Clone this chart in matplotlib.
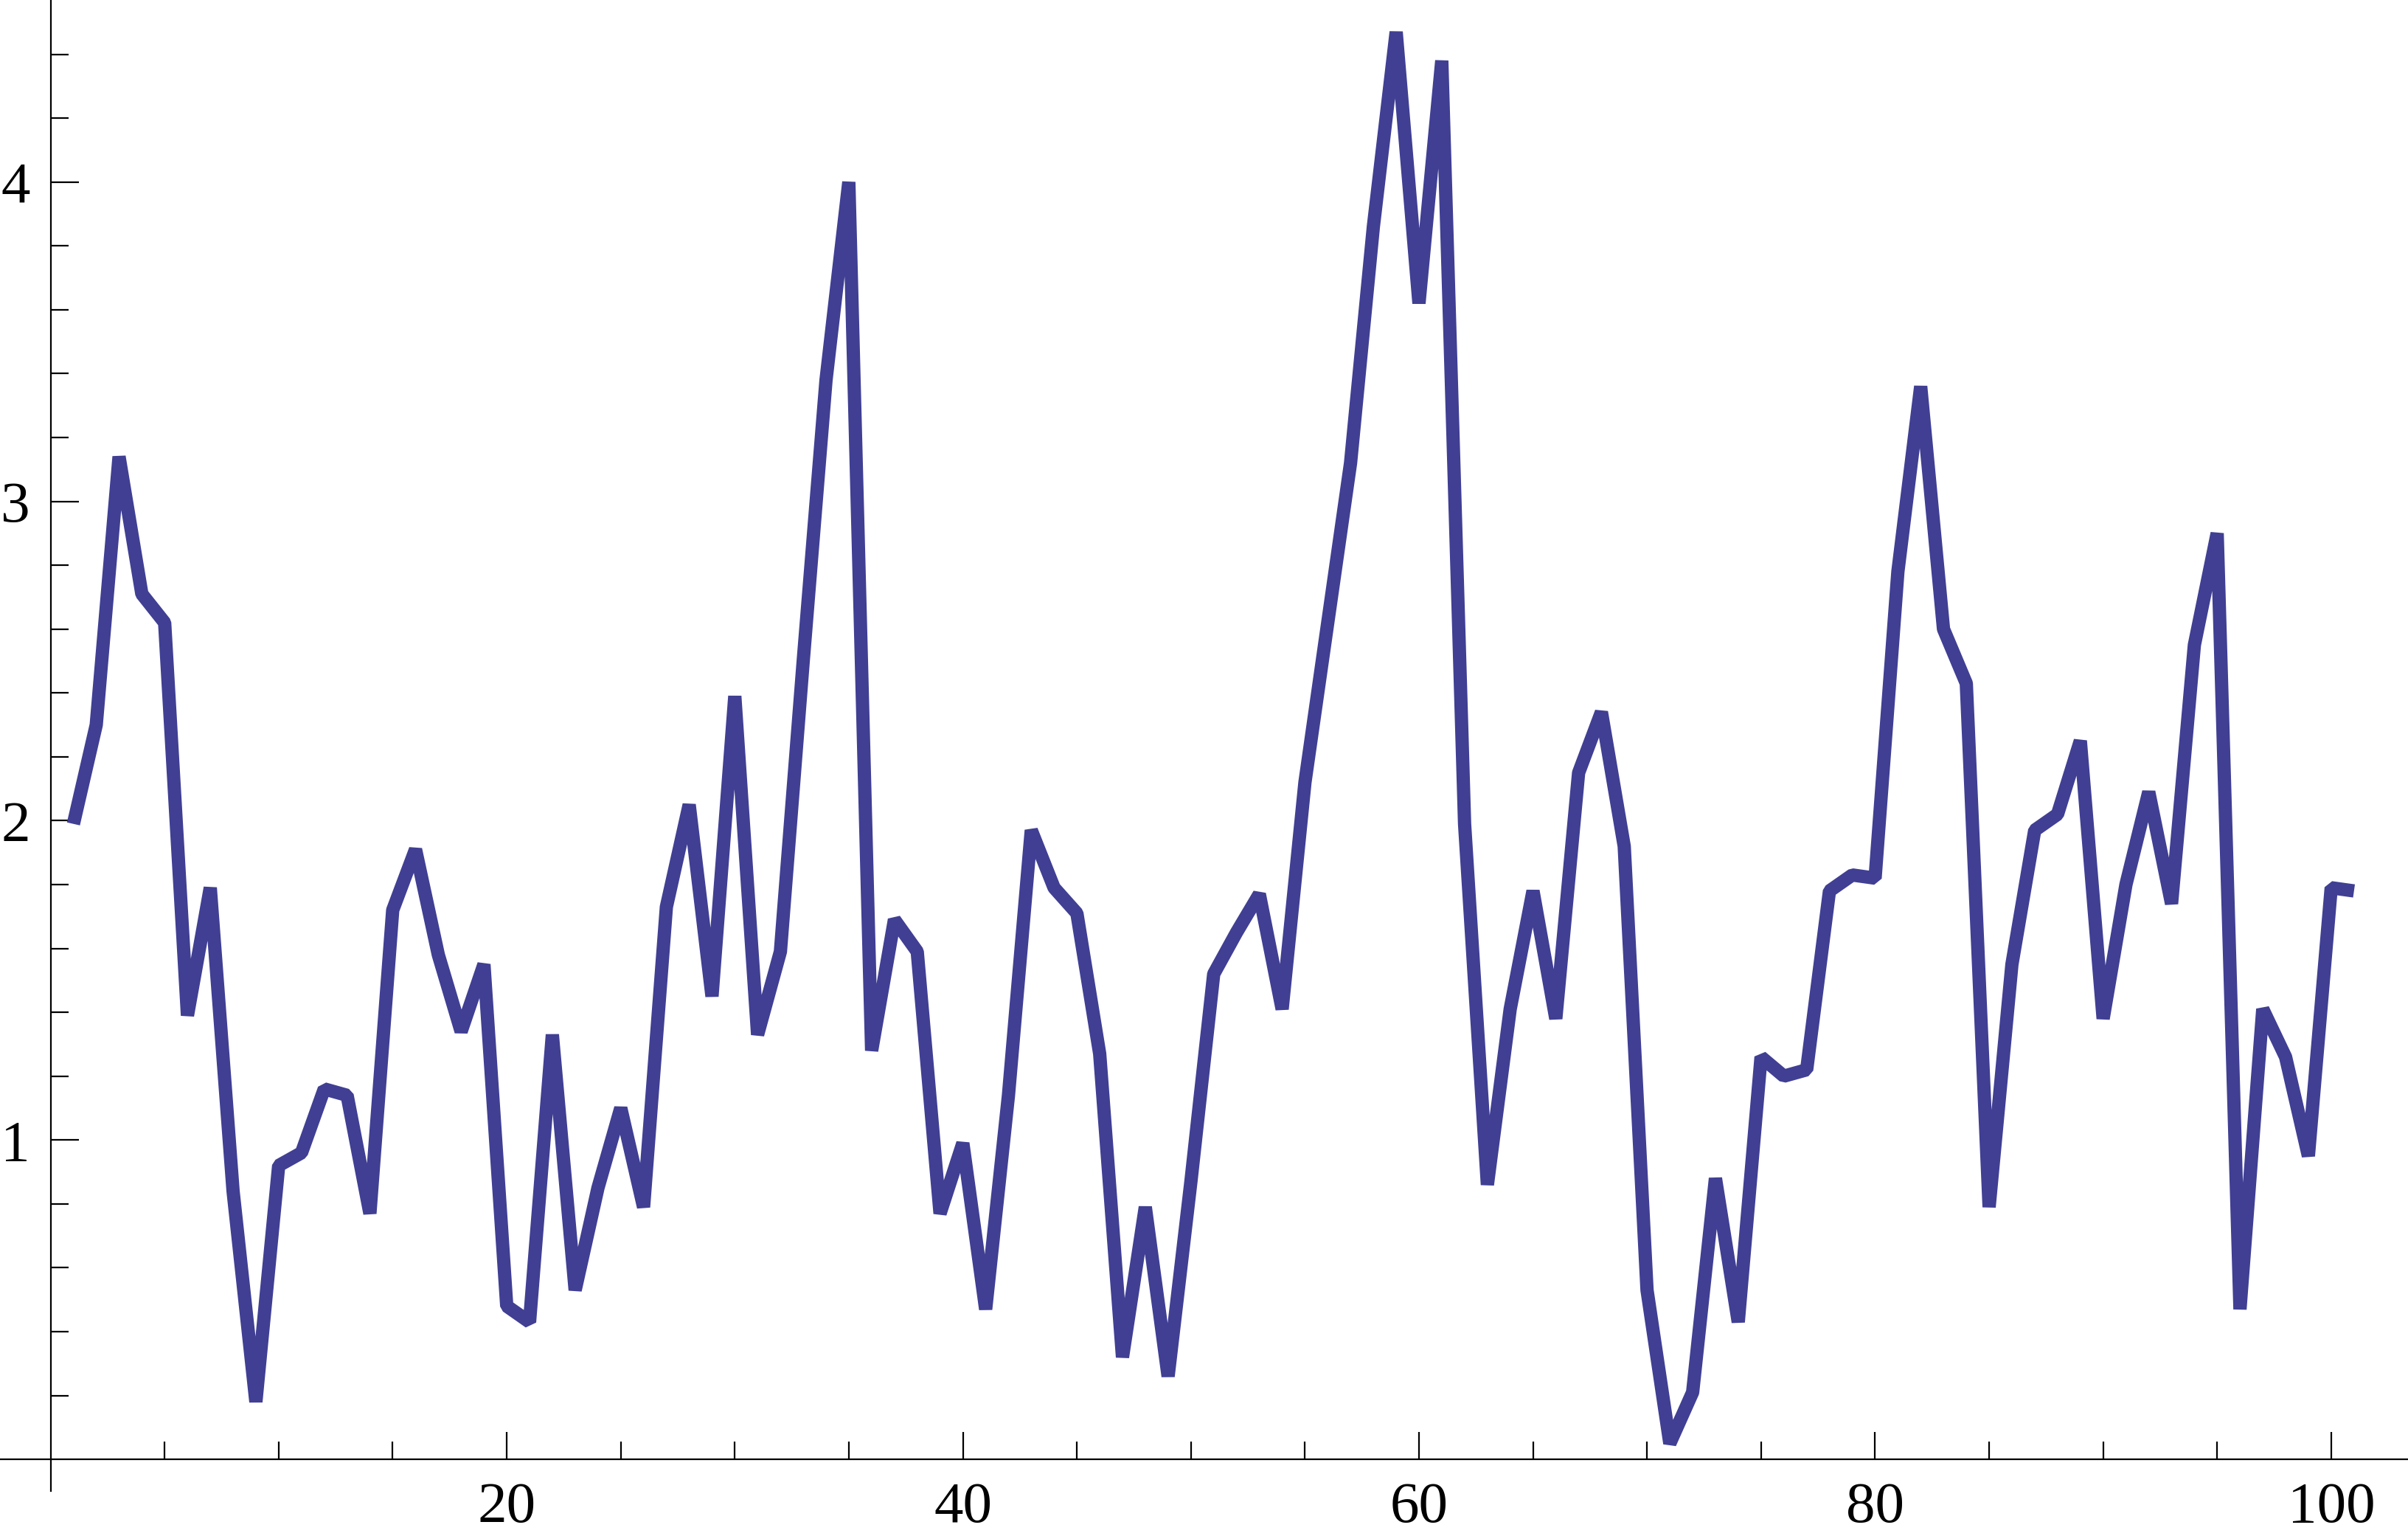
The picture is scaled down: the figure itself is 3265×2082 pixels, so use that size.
import numpy as np
import matplotlib
matplotlib.use("Agg")
import matplotlib.pyplot as plt
from matplotlib.ticker import FixedLocator

# values, index 1..101
x_vals = list(range(1, 102))
y_vals = [
    1.99, 2.30, 3.14, 2.71, 2.62, 1.39, 1.79, 0.84, 0.18, 0.92,
    0.96, 1.16, 1.14, 0.77, 1.72, 1.91, 1.58, 1.34, 1.55, 0.48,
    0.43, 1.33, 0.53, 0.85, 1.10, 0.79, 1.73, 2.05, 1.45, 2.39,
    1.33, 1.59, 2.50, 3.38, 4.00, 1.28, 1.69, 1.59, 0.77, 0.99,
    0.47, 1.14, 1.97, 1.79, 1.71, 1.27, 0.32, 0.79, 0.26, 0.87,
    1.52, 1.65, 1.77, 1.41, 2.12, 2.62, 3.12, 3.86, 4.47, 3.62,
    4.38, 1.99, 0.86, 1.41, 1.78, 1.38, 2.15, 2.34, 1.92, 0.53,
    0.05, 0.21, 0.88, 0.43, 1.26, 1.20, 1.22, 1.78, 1.83, 1.82,
    2.78, 3.36, 2.60, 2.43, 0.79, 1.55, 1.97, 2.02, 2.25, 1.38,
    1.80, 2.09, 1.74, 2.55, 2.90, 0.47, 1.41, 1.26, 0.95, 1.79,
    1.78,
]
x_major = [20, 40, 60, 80, 100]
x_minor = [5, 10, 15, 25, 30, 35, 45, 50, 55, 65, 70, 75, 85, 90, 95]
y_major = [1, 2, 3, 4]
y_minor = [round(0.2 * k, 1) for k in range(1, 23) if k % 5 != 0]

line_color = "#403f93"

fig = plt.figure(figsize=(32.66, 20.82), dpi=100)
ax = fig.add_axes([0, 0, 1, 1])
ax.set_facecolor("white")

ax.plot(x_vals, y_vals, color=line_color, lw=13,
        solid_joinstyle="bevel", solid_capstyle="butt")

ax.set_xlim(-2.22, 103.4)
ax.set_ylim(-0.24, 4.57)

for side in ["top", "right"]:
    ax.spines[side].set_visible(False)
ax.spines["left"].set_position(("data", 0))
ax.spines["bottom"].set_position(("data", 0))
ax.spines["left"].set_bounds(-0.1, 4.57)
for side in ["left", "bottom"]:
    ax.spines[side].set_linewidth(1.6)
    ax.spines[side].set_color("black")

ax.xaxis.set_major_locator(FixedLocator(x_major))
ax.xaxis.set_minor_locator(FixedLocator(x_minor))
ax.yaxis.set_major_locator(FixedLocator(y_major))
ax.yaxis.set_minor_locator(FixedLocator(y_minor))

ax.tick_params(axis="x", which="major", direction="in", length=27, width=1.6,
               pad=22, labelsize=57, colors="black")
ax.tick_params(axis="x", which="minor", direction="in", length=17, width=1.6,
               colors="black")
ax.tick_params(axis="y", which="major", direction="in", length=27, width=1.6,
               pad=20, labelsize=57, colors="black")
ax.tick_params(axis="y", which="minor", direction="in", length=17, width=1.6,
               colors="black")
for lab in ax.get_xticklabels() + ax.get_yticklabels():
    lab.set_family(["Liberation Serif", "DejaVu Serif"])

fig.savefig("out.png", dpi=100, facecolor="white")
